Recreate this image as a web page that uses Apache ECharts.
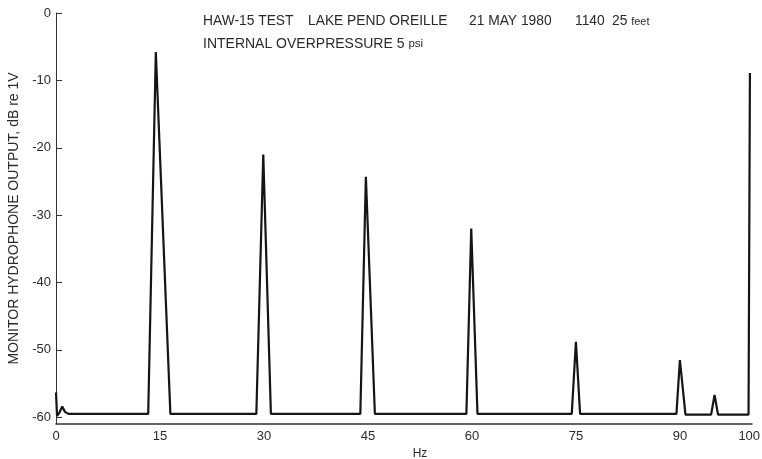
<!DOCTYPE html>
<html>
<head>
<meta charset="utf-8">
<script src="https://cdn.jsdelivr.net/npm/echarts@6/dist/echarts.min.js"></script>
<style>
  html, body { margin: 0; padding: 0; background: #fff; }
  #chart { width: 762px; height: 459px; }
</style>
</head>
<body>
<div id="chart"></div>
<script>
// Spectrum trace: frequency (Hz) and hydrophone output (dB re 1V)
const freqHz = [0.0, 0.15, 0.5, 0.9, 1.3, 1.8,
  13.3, 14.4, 16.5,
  28.9, 29.9, 31.0,
  43.9, 44.7, 46.0,
  59.2, 59.9, 60.8,
  74.4, 75.0, 75.6,
  89.5, 90.0, 90.8,
  94.5, 95.0, 95.5,
  99.9, 100.1];
const levelDb = [-56.3, -59.8, -59.3, -58.4, -59.2, -59.5,
  -59.5, -5.8, -59.5,
  -59.5, -21.0, -59.5,
  -59.5, -24.3, -59.5,
  -59.5, -32.0, -59.5,
  -59.5, -48.8, -59.5,
  -59.5, -51.5, -59.6,
  -59.6, -56.7, -59.6,
  -59.6, -8.9];

// Axis tick labels
const xTickValues = [0, 15, 30, 45, 60, 75, 90, 100];
const yTickValues = [0, -10, -20, -30, -40, -50, -60];

// Header: run description split into its fields, then the test condition
const headerFields = ['HAW-15 TEST', 'LAKE PEND OREILLE', '21 MAY 1980', '1140', '25 {u|feet}'];
const headerFieldX = [203, 308, 469, 575, 612];
const headerLine2 = 'INTERNAL OVERPRESSURE 5 {u|psi}';

const font = 'Liberation Sans, Arial, Helvetica, sans-serif';
const ink = '#2a2a2a';

const chart = echarts.init(document.getElementById('chart'), null, { renderer: 'canvas' });

const unitStyle = { fontSize: 11, fontFamily: font, fill: ink, verticalAlign: 'bottom', padding: [0, 0, 1, 0] };

const headerGraphics = headerFields.map((txt, i) => ({
  type: 'text',
  x: headerFieldX[i],
  y: 21,
  style: {
    text: txt,
    font: '13.8px ' + font,
    fill: ink,
    verticalAlign: 'middle',
    rich: { u: unitStyle }
  }
}));
headerGraphics.push({
  type: 'text',
  x: 203,
  y: 44,
  style: {
    text: headerLine2,
    font: '14px ' + font,
    fill: ink,
    verticalAlign: 'middle',
    rich: { u: Object.assign({}, unitStyle, { fontSize: 11.5 }) }
  }
});

chart.setOption({
  animation: false,
  backgroundColor: '#ffffff',
  grid: { left: 56, right: 10, top: 13, bottom: 35, containLabel: false, outerBoundsMode: 'none' },
  xAxis: {
    type: 'value',
    min: 0,
    max: 100.4,
    name: 'Hz',
    nameLocation: 'middle',
    nameGap: 21,
    nameTextStyle: { fontFamily: font, fontSize: 12, color: ink, padding: [0, 0, 0, 32] },
    axisLine: { show: true, onZero: false, lineStyle: { color: '#333', width: 1.5 } },
    axisTick: { show: false },
    splitLine: { show: false },
    axisLabel: {
      customValues: xTickValues,
      fontFamily: font, fontSize: 13, color: ink, margin: 6
    }
  },
  yAxis: {
    type: 'value',
    min: -61,
    max: 0,
    name: 'MONITOR HYDROPHONE OUTPUT, dB re 1V',
    nameLocation: 'middle',
    nameGap: 35,
    nameTextStyle: { fontFamily: font, fontSize: 14, color: ink },
    axisLine: { show: true, onZero: false, lineStyle: { color: '#333', width: 1 } },
    axisTick: {
      show: true, inside: true, length: 6,
      customValues: yTickValues,
      lineStyle: { color: '#333', width: 1 }
    },
    splitLine: { show: false },
    axisLabel: {
      customValues: yTickValues,
      fontFamily: font, fontSize: 13, color: ink, margin: 5
    }
  },
  graphic: headerGraphics,
  series: [{
    type: 'line',
    data: freqHz.map((f, i) => [f, levelDb[i]]),
    showSymbol: false,
    symbol: 'none',
    lineStyle: { color: '#151515', width: 2.2 },
    z: 3
  }]
});
</script>
</body>
</html>
